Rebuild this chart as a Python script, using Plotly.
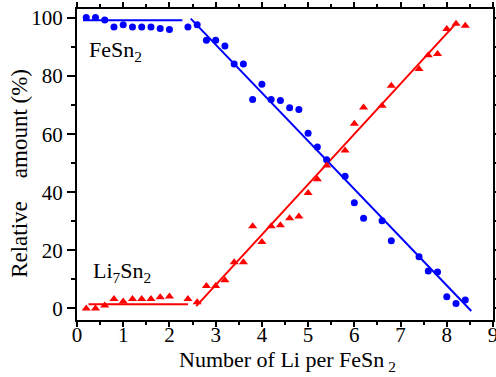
import plotly.graph_objects as go

# Lithium content (number of Li per FeSn2)
li_per_fesn2 = [0.2, 0.4, 0.6, 0.8, 1.0, 1.2, 1.4, 1.6, 1.8, 2.0, 2.4, 2.6, 2.8, 3.0,
                3.2, 3.4, 3.6, 3.8, 4.0, 4.2, 4.4, 4.6, 4.8, 5.0, 5.2, 5.4, 5.8, 6.0,
                6.2, 6.6, 6.8, 7.4, 7.6, 7.8, 8.0, 8.2, 8.4]

# Relative amounts (%)
fesn2_pct = [100.2, 100.2, 99.3, 96.9, 97.7, 96.9, 96.9, 96.9, 96.4, 96.0, 96.9, 97.7,
             92.3, 92.3, 90.4, 84.2, 84.2, 71.9, 77.2, 71.9, 71.6, 69.1, 68.5, 60.3,
             55.6, 51.2, 45.5, 36.4, 31.0, 30.2, 23.3, 17.8, 12.9, 12.5, 4.0, 1.7, 2.9]
li7sn2_pct = [0.0, 0.0, 1.0, 3.2, 2.4, 3.2, 3.2, 3.2, 3.8, 4.1, 3.2, 2.1, 7.7, 7.7,
              9.7, 15.9, 15.9, 28.3, 22.9, 28.3, 28.6, 31.0, 31.6, 39.7, 44.5, 49.2,
              54.4, 63.6, 69.2, 69.8, 76.7, 82.4, 87.2, 87.6, 96.2, 98.0, 97.3]

# Linear fits (end points of each segment)
fe_flat_x, fe_flat_y = [0.13, 2.28], [99.2, 99.2]
fe_fit_x, fe_fit_y = [2.46, 8.53], [99.8, -0.9]
li_flat_x, li_flat_y = [0.25, 2.40], [1.4, 1.4]
li_fit_x, li_fit_y = [2.58, 8.22], [0.8, 98.5]

# Axis ticks
x_ticks = list(range(0, 10))
y_ticks = [0, 20, 40, 60, 80, 100]

BLUE = "#0000ff"
RED = "#ff0000"
FONT = "Liberation Serif"

fig = go.Figure()

for xs, ys, c in [(fe_flat_x, fe_flat_y, BLUE), (fe_fit_x, fe_fit_y, BLUE),
                  (li_flat_x, li_flat_y, RED), (li_fit_x, li_fit_y, RED)]:
    fig.add_trace(go.Scatter(x=xs, y=ys, mode="lines",
                             line=dict(color=c, width=2), showlegend=False))

fig.add_trace(go.Scatter(x=li_per_fesn2, y=fesn2_pct, mode="markers",
                         marker=dict(symbol="circle", size=7, color=BLUE),
                         showlegend=False))
fig.add_trace(go.Scatter(x=li_per_fesn2, y=li7sn2_pct, mode="markers",
                         marker=dict(symbol="triangle-up", size=8, color=RED),
                         showlegend=False))

# Phase labels
fig.add_annotation(x=0.22, y=88.5, xref="x", yref="y", text="FeSn<sub>2</sub>",
                   showarrow=False, xanchor="left", yanchor="middle",
                   font=dict(family=FONT, size=22, color="black"))
fig.add_annotation(x=0.31, y=12.5, xref="x", yref="y", text="Li<sub>7</sub>Sn<sub>2</sub>",
                   showarrow=False, xanchor="left", yanchor="middle",
                   font=dict(family=FONT, size=22, color="black"))

# Axis titles
fig.add_annotation(x=-0.137, y=0.47, xref="paper", yref="paper",
                   text="Relative&nbsp;&nbsp;&nbsp; amount (%)", textangle=-90,
                   showarrow=False, xanchor="center", yanchor="middle",
                   font=dict(family=FONT, size=23, color="black"))
fig.add_annotation(x=0.507, y=-0.182, xref="paper", yref="paper",
                   text="Number of Li per FeSn<sub> 2</sub>",
                   showarrow=False, xanchor="center", yanchor="bottom",
                   font=dict(family=FONT, size=22, color="black"))

axis_common = dict(showline=True, linecolor="black", linewidth=2, mirror="ticks",
                   ticks="outside", tickcolor="black", tickwidth=2,
                   showgrid=False, zeroline=False, automargin=False,
                   ticklabeloverflow="allow",
                   tickfont=dict(family=FONT, size=21, color="black"))

fig.update_xaxes(range=[0, 9], tickvals=x_ticks, ticklen=5, ticklabelstandoff=-10,
                 minor=dict(dtick=0.5, ticks="outside", ticklen=3, tickwidth=2,
                            tickcolor="black", showgrid=False),
                 **axis_common)
fig.update_yaxes(range=[-4.0, 103.1], tickvals=y_ticks, ticklen=8,
                 minor=dict(tickvals=[10, 30, 50, 70, 90], ticks="outside", ticklen=4,
                            tickwidth=2, tickcolor="black", showgrid=False),
                 **axis_common)

fig.update_layout(width=496, height=377, margin=dict(l=77, r=3, t=9, b=57),
                  plot_bgcolor="white", paper_bgcolor="white",
                  font=dict(family=FONT))

fig.write_html("out.html")
